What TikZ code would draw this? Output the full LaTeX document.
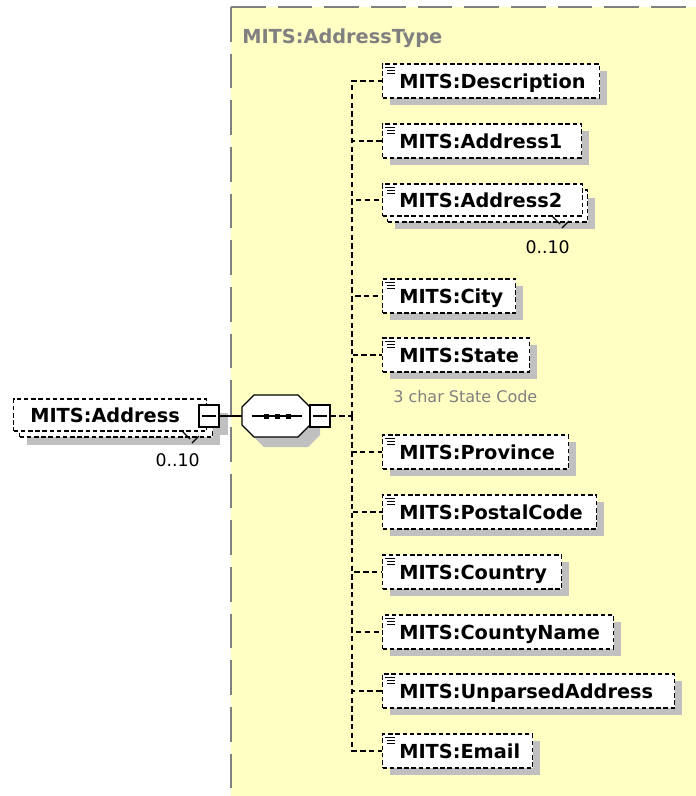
\documentclass[tikz,border=0pt]{standalone}
\usepackage{fontspec}
\setmainfont{DejaVu Sans}
\definecolor{ybg}{RGB}{255,255,196}
\definecolor{shd}{RGB}{192,192,192}
\definecolor{gtx}{RGB}{128,128,128}
\newcommand\xelem[4]{%
  \fill[shd] (390,#2-10) rectangle (#3+8,#2+24);
  \node[elbox, minimum width={(#3-382)*0.75pt}] (#1) at (382,#2) {};
  \draw[icn] (385,#2-14) -- (395,#2-14) (387,#2-11) -- (395,#2-11) (387,#2-8) -- (395,#2-8);
  \node[eltext] (#1t) at ([xshift=12.75pt]#1.west) {#4};
}
\begin{document}
\begin{tikzpicture}[x=0.75pt,y=-0.75pt,
  elbox/.style={draw, fill=white, dash pattern=on 3.4pt off 2pt, line width=1pt,
    inner sep=0pt, minimum height=25.5pt, anchor=west},
  eltext/.style={font=\bfseries\fontsize{14.5}{17}\selectfont, inner sep=0pt, anchor=west,
    text height=10.5pt, text depth=0pt},
  icn/.style={line width=0.6pt},
  conn/.style={dash pattern=on 4pt off 2.6pt, line width=1pt},
  solidln/.style={line width=0.9pt},
  minusbox/.style={draw, fill=white, solid, line width=0.9pt, inner sep=0pt,
    minimum width=15pt, minimum height=16.5pt},
  mult/.style={font=\fontsize{13}{15}\selectfont, inner sep=0pt, text height=9.4pt, text depth=0pt},
  ybd/.style={draw=gtx, line width=1.3pt, dash pattern=on 26pt off 9pt}
]
\useasboundingbox (0,0) rectangle (696,796);
% type box background
\fill[ybg] (231,7) rectangle (696,796);
\draw[ybd] (231,7) -- (696,7);
\draw[ybd] (231,7) -- (231,796);
\node[font=\bfseries\fontsize{14.5}{17}\selectfont, text=gtx, anchor=west, inner sep=0pt,
  text height=10.5pt, text depth=0pt] (hdr) at (242,36) {MITS:AddressType};

% left element MITS:Address (multiple occurrence)
\fill[shd] (27,413) rectangle (220,445);
\fill[shd] (208,413) rectangle (228,435);
\node[elbox, minimum width=144.75pt, minimum height=24pt] (a0b) at (19,421) {};
\node[elbox, minimum width=144.75pt, minimum height=24pt] (a0) at (13,415) {};
\node[eltext] (a0t) at ([xshift=12.75pt]a0.west) {MITS:Address};
\draw[solidln] (182,431) -- (190,439) (192,443) -- (199,436);
\node[mult, anchor=east] (mu0) at (200,460) {0..10};
\node[minusbox] (m1) at (209,416) {};
\draw[solidln] ([xshift=3pt]m1.west) -- ([xshift=-3pt]m1.east);

% sequence compositor
\fill[shd] (264,405) -- (308,405) -- (320,417) -- (320,435) -- (308,447) -- (264,447) -- (252,435) -- (252,417) -- cycle;
\draw[solidln, fill=white] (254,395) -- (298,395) -- (310,407) -- (310,425) -- (298,437) -- (254,437) -- (242,425) -- (242,407) -- cycle;
\node[inner sep=0pt, minimum width=51pt, minimum height=31.5pt] (seq) at (276,416) {};
\draw[solidln] ([xshift=7.5pt]seq.west) -- ([xshift=-6pt]seq.east);
\fill (263.5,413.5) rectangle (268.5,418.5);
\fill (274.5,413.5) rectangle (279.5,418.5);
\fill (285.5,413.5) rectangle (290.5,418.5);
\node[minusbox] (m2) at (320,416) {};
\draw[solidln] ([xshift=3pt]m2.west) -- ([xshift=-3pt]m2.east);
\draw[solidln] (m1.east) -- (seq.west);
\coordinate (fork) at (352,416);
\draw[conn] (m2.east) -- (fork);

% child elements
\xelem{e1}{81}{599}{MITS:Description}
\xelem{e2}{141}{581}{MITS:Address1}
% Address2 (multiple occurrence)
\fill[shd] (395,198) rectangle (595,229);
\node[elbox, minimum width=150pt, minimum height=24pt] (e3b) at (387,206) {};
\node[elbox, minimum width=150pt, minimum height=24pt] (e3) at (382,200) {};
\draw[icn] (385,187) -- (395,187) (387,190) -- (395,190) (387,193) -- (395,193);
\node[eltext] (e3t) at ([xshift=12.75pt]e3.west) {MITS:Address2};
\draw[solidln] (552,216) -- (560,224) (562,228) -- (569,221);
\node[mult, anchor=east] (mu3) at (570,247) {0..10};
\xelem{e4}{296}{515}{MITS:City}
\xelem{e5}{355}{529}{MITS:State}
\node[font=\fontsize{12}{14}\selectfont, text=gtx, anchor=west, inner sep=0pt,
  text height=8.7pt, text depth=0pt] (ann) at (393,397) {3 char State Code};
\xelem{e6}{452}{568}{MITS:Province}
\xelem{e7}{512}{596}{MITS:PostalCode}
\xelem{e8}{572}{561}{MITS:Country}
\xelem{e9}{632}{613}{MITS:CountyName}
\xelem{e10}{691}{674}{MITS:UnparsedAddress}
\xelem{e11}{751}{532}{MITS:Email}

\foreach \n in {e1,e2,e3,e4,e5,e6,e7,e8,e9,e10,e11}
  \draw[conn] (fork) |- (\n.west);
\end{tikzpicture}
\end{document}
